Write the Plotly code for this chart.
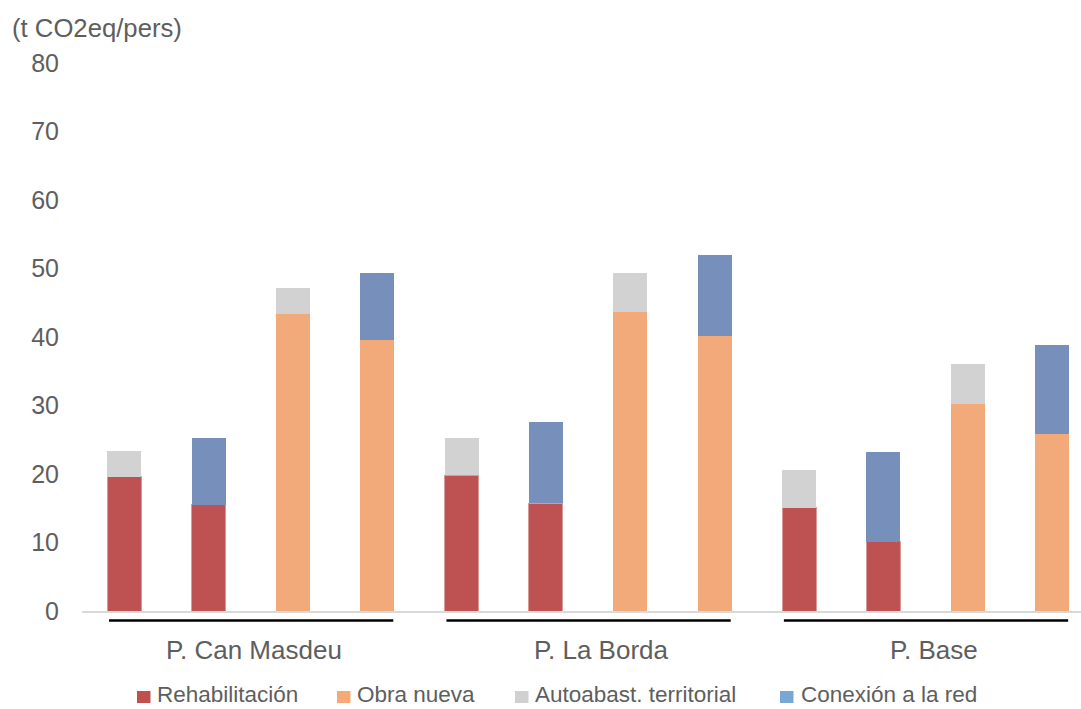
import plotly.graph_objects as go

# Emissions per person (t CO2eq/pers), four scenarios per project, stacked by component
groups = ["P. Can Masdeu", "P. La Borda", "P. Base"]
bars_per_group = 4

rehabilitacion = [19.6, 15.5, None, None, 19.8, 15.7, None, None, 15.1, 10.1, None, None]
obra_nueva = [None, None, 43.4, 39.6, None, None, 43.6, 40.2, None, None, 30.2, 25.8]
autoabast = [3.8, None, 3.8, None, 5.5, None, 5.8, None, 5.5, None, 5.8, None]
conexion = [None, 9.8, None, 9.8, None, 11.9, None, 11.8, None, 13.1, None, 13.1]

series_names = ["Rehabilitación", "Obra nueva", "Autoabast. territorial", "Conexión a la red"]
series_values = [rehabilitacion, obra_nueva, autoabast, conexion]
bar_colors = ["#BE5151", "#F2AA7A", "#D2D2D2", "#778FBB"]
legend_colors = ["#C0504D", "#F4A977", "#D0D0D0", "#79A7D3"]

y_ticks = [0, 10, 20, 30, 40, 50, 60, 70, 80]
y_title = "(t CO2eq/pers)"

W, H = 1081, 709
ML, MR, MT, MB = 82, 0, 63, 98
PW, PH = W - ML - MR, H - MT - MB
SLOT = 84.36  # pixel width of one category slot

n_bars = len(groups) * bars_per_group
x_pos = list(range(n_bars))

text_color = "#5E5E5E"
font_family = "Liberation Sans, Arial, sans-serif"

fig = go.Figure()
for name, vals, col in zip(series_names, series_values, bar_colors):
    line = dict(width=1, color="#D89A99") if name == "Rehabilitación" else dict(width=0)
    fig.add_trace(go.Bar(
        x=x_pos, y=vals, name=name,
        marker=dict(color=col, line=line),
        showlegend=False,
    ))


def px_x(px):
    return (px - ML) / PW


def px_y(py):
    return (H - MB - py) / PH


shapes = []
annotations = []

# underline and label for each project group
label_offsets = [0.04, 0.16, 0.1]
for gi, g in enumerate(groups):
    first = gi * bars_per_group
    last = first + bars_per_group - 1
    shapes.append(dict(
        type="line", xref="x", yref="paper",
        x0=first - 0.18, x1=last + 0.19, y0=px_y(620.5), y1=px_y(620.5),
        line=dict(color="#000000", width=2.5),
    ))
    annotations.append(dict(
        x=(first + last) / 2 + label_offsets[gi], y=px_y(650),
        xref="x", yref="paper", text=g, showarrow=False,
        xanchor="center", yanchor="middle",
        font=dict(size=26, color=text_color, family=font_family),
    ))

# axis unit label
annotations.append(dict(
    x=px_x(10), y=px_y(28), xref="paper", yref="paper", text=y_title,
    showarrow=False, xanchor="left", yanchor="middle",
    font=dict(size=25.7, color=text_color, family=font_family),
))

# legend row
legend_swatch_x = [137, 337, 515, 780]
legend_text_x = [155, 355, 533, 799]
for name, col, sx, tx in zip(series_names, legend_colors, legend_swatch_x, legend_text_x):
    shapes.append(dict(
        type="rect", xref="paper", yref="paper",
        x0=px_x(sx), x1=px_x(sx + 13.5), y0=px_y(703), y1=px_y(691),
        fillcolor=col, line=dict(width=0),
    ))
    annotations.append(dict(
        x=px_x(tx), y=px_y(694.5), xref="paper", yref="paper", text=name,
        showarrow=False, xanchor="left", yanchor="middle",
        font=dict(size=22.5, color=text_color, family=font_family),
    ))

fig.update_layout(
    width=W, height=H,
    margin=dict(l=ML, r=MR, t=MT, b=MB, pad=0),
    paper_bgcolor="white", plot_bgcolor="white",
    barmode="stack", bargap=0.597,
    font=dict(family=font_family, color=text_color),
    shapes=shapes, annotations=annotations,
    showlegend=False,
)
fig.update_xaxes(
    range=[-0.5, -0.5 + PW / SLOT],
    showticklabels=False, ticks="", showgrid=False, zeroline=False,
    showline=True, linecolor="#D9D9D9", linewidth=2,
    fixedrange=True,
)
fig.update_yaxes(
    range=[0, 80], tickvals=y_ticks,
    showgrid=False, zeroline=False, showline=False, ticks="",
    ticklabelstandoff=22,
    tickfont=dict(size=25, color=text_color, family=font_family),
    fixedrange=True,
)

fig.write_html("out.html", include_plotlyjs=True, config={"displayModeBar": False})
